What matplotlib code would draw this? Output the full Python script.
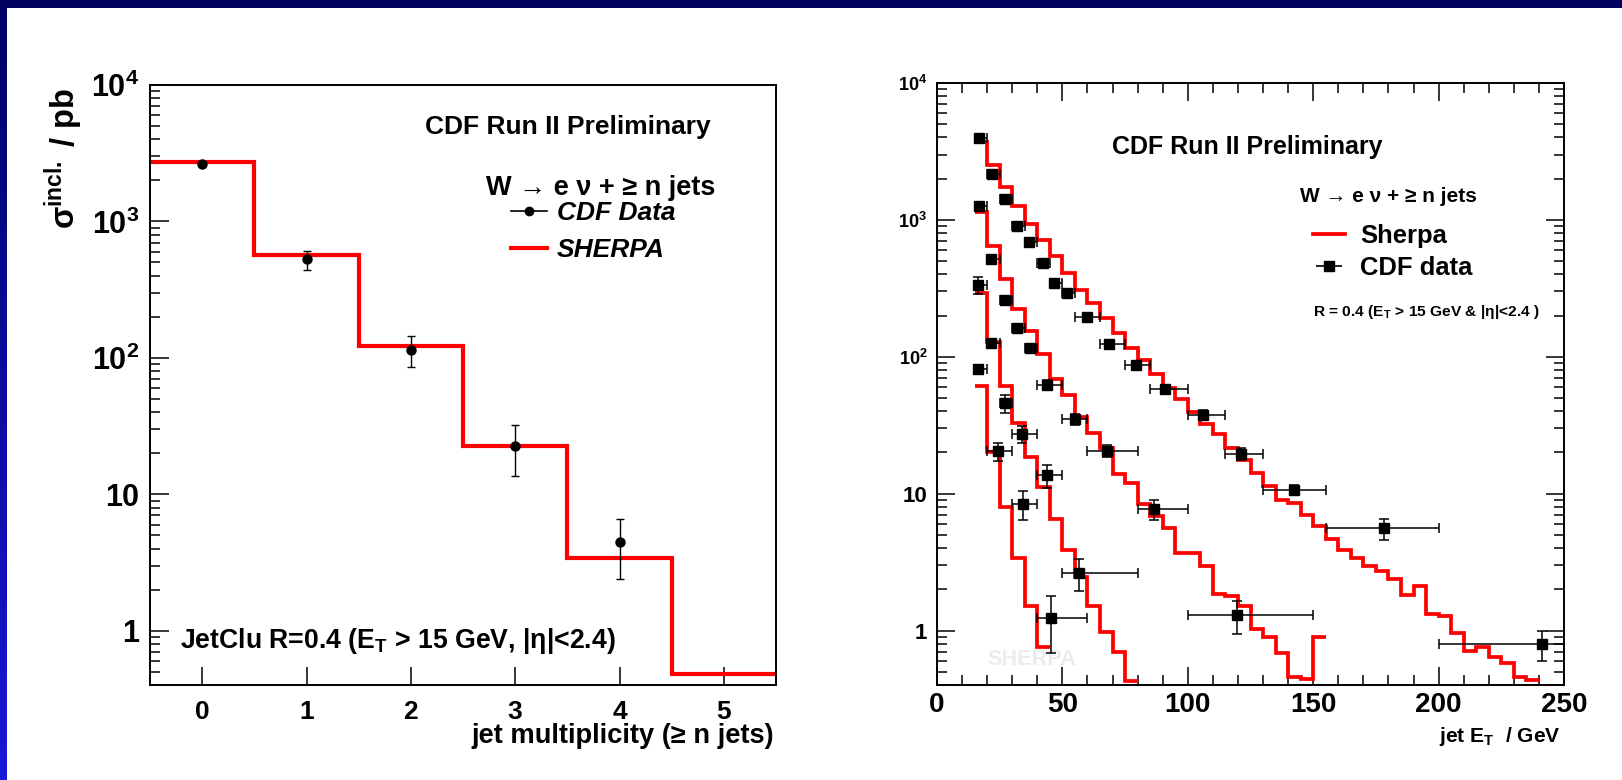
import numpy as np
import matplotlib
matplotlib.use('Agg')
import matplotlib.pyplot as plt
from matplotlib import font_manager
from matplotlib.lines import Line2D
from matplotlib.patches import Rectangle
from matplotlib.colors import LinearSegmentedColormap
from matplotlib.ticker import LogLocator, NullFormatter, MultipleLocator, NullLocator

# ---------------- data: left panel (inclusive cross sections) ----------------
mult_n = [0, 1, 2, 3, 4]
sigma_incl = [2625, 528, 114, 22.6, 4.49]
sigma_err_lo = [60, 87, 28, 8.9, 2.1]
sigma_err_hi = [60, 82, 31, 9.4, 2.1]
sherpa_n = [0, 1, 2, 3, 4, 5]
sherpa_incl = [2740, 569, 123, 22.5, 3.43, 0.48]
mult_ticks = [0, 1, 2, 3, 4, 5]

# ---------------- data: right panel (jet ET spectra) ----------------
et_first_edge = 15
et_bin_width = 5
sherpa_j1 = [3720, 2513, 1745, 1267, 931, 708, 546, 412, 310, 245, 192, 150, 116, 94,
             75, 59.6, 49.5, 39.5, 32.5, 27.2, 21.7, 17.7, 14.2, 11.3, 9.0, 8.6, 7.0,
             5.8, 4.7, 3.9, 3.4, 2.95, 2.71, 2.36, 1.83, 2.10, 1.32, 1.27, 0.96, 0.71,
             0.755, 0.64, 0.58, 0.456, 0.436]
sherpa_j2 = [1145, 646, 373, 225, 154, 105, 68.5, 52.3, 36.4, 27.8, 21.4, 13.8, 12.0,
             8.45, 6.82, 5.61, 3.70, 3.70, 2.95, 1.85, 1.79, 1.52, 1.02, 0.90, 0.68,
             0.456, 0.44, 0.90]
sherpa_j3 = [290, 128, 61.2, 32.9, 18.5, 11.2, 6.48, 3.85, 2.45, 1.51, 0.98, 0.70, 0.43]
sherpa_j4 = [60.8, 20.3, 7.98, 3.40, 1.51, 0.76]

cdf_j1_et = [16.9, 21.8, 27.0, 31.8, 36.7, 42.4, 46.7, 52.0, 59.7, 68.7, 79.3, 91.0,
             105.9, 121.1, 142.5, 178.3, 241.1]
cdf_j1_val = [3940, 2161, 1410, 899, 687, 485, 347, 290, 194, 123, 86.7, 58.5, 37.8,
              19.6, 10.7, 5.57, 0.80]
cdf_j1_lo = [15, 20, 25, 30, 35, 40, 45, 50, 55, 65, 75, 85, 100, 115, 130, 155, 200]
cdf_j1_hi = [20, 25, 30, 35, 40, 45, 50, 55, 65, 75, 85, 100, 115, 130, 155, 200, 280]
cdf_j1_err = [150, 90, 60, 40, 30, 22, 16, 14, 10, 7, 5, 4, 3, 2, 0.9, 1.0, 0.2]

cdf_j2_et = [16.9, 21.4, 27.1, 31.8, 37.1, 44.0, 55.2, 67.9, 86.7, 119.7]
cdf_j2_val = [1267, 516, 262, 161, 115, 62.6, 34.9, 20.5, 7.67, 1.30]
cdf_j2_lo = [15, 20, 25, 30, 35, 40, 50, 60, 80, 100]
cdf_j2_hi = [20, 25, 30, 35, 40, 50, 60, 80, 100, 150]
cdf_j2_err = [60, 30, 16, 12, 8, 5, 3, 2, 1.25, 0.35]

cdf_j3_et = [16.5, 21.4, 27.0, 33.8, 44.0, 56.8]
cdf_j3_val = [333, 126, 46, 27.4, 13.6, 2.63]
cdf_j3_lo = [15, 20, 25, 30, 40, 50]
cdf_j3_hi = [20, 25, 30, 40, 50, 80]
cdf_j3_err = [47, 9, 7, 3.8, 2.6, 0.68]

cdf_j4_et = [16.5, 24.5, 34.2, 45.3]
cdf_j4_val = [81, 20.4, 8.45, 1.24]
cdf_j4_lo = [15, 20, 30, 40]
cdf_j4_hi = [20, 30, 40, 60]
cdf_j4_err = [6, 3, 2.0, 0.55]

# ---------------- fonts ----------------
names = {f.name for f in font_manager.fontManager.ttflist}
NARROW = 'Liberation Sans Narrow' in names
NF = ['Liberation Sans Narrow', 'Liberation Sans', 'DejaVu Sans'] if NARROW else ['Liberation Sans', 'DejaVu Sans']
NS = 1.0 if NARROW else 0.82
RF = ['Liberation Sans', 'DejaVu Sans']

plt.rcParams.update({
    'font.family': RF, 'font.weight': 'bold',
    'mathtext.fontset': 'custom', 'mathtext.rm': 'Liberation Sans:bold',
    'mathtext.it': 'Liberation Sans:bold:italic', 'mathtext.bf': 'Liberation Sans:bold',
    'mathtext.default': 'rm', 'axes.linewidth': 1.4,
})

W, H = 1622, 780
fig = plt.figure(figsize=(W / 100, H / 100), dpi=100)
fig.patch.set_facecolor('white')


def fx(p):
    return p / W


def fy(p):
    return 1 - p / H


# ---------------- slide border ----------------
bg = fig.add_axes([0, 0, 1, 1], zorder=-5)
cmap = LinearSegmentedColormap.from_list('b', ['#000066', '#1818d8'])
bg.imshow(np.linspace(0, 1, 256).reshape(-1, 1), cmap=cmap, extent=(0, 7, H, 0), aspect='auto')
bg.add_patch(Rectangle((0, 0), W, 8, color='#00005e', lw=0))
bg.set_xlim(0, W)
bg.set_ylim(H, 0)
bg.axis('off')

RED = '#ff0000'

# ---------------- left panel ----------------
axL = fig.add_axes([fx(150), fy(685), fx(776) - fx(150), fy(85) - fy(685)])
axL.set_yscale('log')
axL.set_xlim(-0.5, 5.5)
axL.set_ylim(0.40, 1e4)
edgesL = np.append(np.array(sherpa_n) - 0.5, sherpa_n[-1] + 0.5)
axL.stairs(sherpa_incl, edgesL, baseline=None, color=RED, lw=3.0, zorder=2)
axL.errorbar(mult_n, sigma_incl, yerr=[sigma_err_lo, sigma_err_hi], fmt='o', color='k',
             ms=6.5, capsize=3, elinewidth=1.0, capthick=1.0, zorder=3)
axL.tick_params(which='both', direction='in', top=False, right=False)
axL.tick_params(axis='y', which='major', length=13.5, width=1.1, pad=8)
axL.tick_params(axis='y', which='minor', length=7, width=1.1)
axL.tick_params(axis='x', which='major', length=13, width=1.1, pad=10.5, labelsize=19)
axL.set_xticks(mult_ticks)
axL.xaxis.set_minor_locator(NullLocator())
axL.set_yticks([1, 10, 100, 1000, 10000], ['1', '10', '$10^{2}$', '$10^{3}$', '$10^{4}$'])
axL.yaxis.set_minor_locator(LogLocator(base=10, subs=np.arange(2, 10)))
axL.yaxis.set_minor_formatter(NullFormatter())
for t in axL.get_yticklabels():
    t.set_fontsize(22)

fig.text(fx(425), fy(134), 'CDF Run II Preliminary', fontsize=19, ha='left', va='baseline')
fig.text(fx(486), fy(195), 'W → e ν + ≥ n jets', fontsize=19.5, ha='left', va='baseline')
fsL = 19 * 100 / 72
hL = [Line2D([], [], color='k', marker='o', ms=6, lw=1.2), Line2D([], [], color=RED, lw=3.0)]
axL.legend(hL, ['CDF Data', 'SHERPA'], loc='center left',
           bbox_to_anchor=(fx(511), fy((210 + 253.3) / 2)), bbox_transform=fig.transFigure,
           frameon=False, borderpad=0, borderaxespad=0, handlelength=36 / fsL,
           handletextpad=10 / fsL, labelspacing=(43 - 1.15 * fsL) / fsL,
           prop={'family': RF, 'weight': 'bold', 'style': 'italic', 'size': 19})
fig.text(fx(180), fy(648), r'JetClu R=0.4 (E$_{\mathrm{T}}$ > 15 GeV, |η|<2.4)', fontsize=19.2,
         ha='left', va='baseline')
fig.text(fx(774), fy(742.7), 'jet multiplicity (≥ n jets)', fontsize=19.6, ha='right', va='baseline')
fig.text(fx(64), fy(88), r'σ$^{\mathrm{incl.}}$ / pb', rotation=90, fontsize=23.5, ha='center', va='top')

# ---------------- right panel ----------------
axR = fig.add_axes([fx(937), fy(685), fx(1564) - fx(937), fy(83) - fy(685)])
axR.set_yscale('log')
axR.set_xlim(0, 250)
axR.set_ylim(0.40, 1e4)
for vals in (sherpa_j1, sherpa_j2, sherpa_j3, sherpa_j4):
    edges = et_first_edge + et_bin_width * np.arange(len(vals) + 1)
    axR.stairs(vals, edges, baseline=None, color=RED, lw=2.7, zorder=2)
for et, val, lo, hi, err in ((cdf_j1_et, cdf_j1_val, cdf_j1_lo, cdf_j1_hi, cdf_j1_err),
                             (cdf_j2_et, cdf_j2_val, cdf_j2_lo, cdf_j2_hi, cdf_j2_err),
                             (cdf_j3_et, cdf_j3_val, cdf_j3_lo, cdf_j3_hi, cdf_j3_err),
                             (cdf_j4_et, cdf_j4_val, cdf_j4_lo, cdf_j4_hi, cdf_j4_err)):
    et = np.array(et)
    axR.errorbar(et, val, xerr=[et - np.array(lo), np.array(hi) - et], yerr=err, fmt='s',
                 color='k', ms=6.5, capsize=3.5, elinewidth=1.1, capthick=1.1, zorder=3)
axR.tick_params(which='both', direction='in', top=True, right=True)
axR.tick_params(which='major', length=13, width=1.1)
axR.tick_params(which='minor', length=7, width=1.1)
axR.tick_params(axis='x', which='major', pad=5, labelsize=20)
axR.tick_params(axis='y', which='major', pad=7)
axR.xaxis.set_major_locator(MultipleLocator(50))
axR.xaxis.set_minor_locator(MultipleLocator(10))
axR.set_yticks([1, 10, 100, 1000, 10000], ['1', '10', '$10^{2}$', '$10^{3}$', '$10^{4}$'])
axR.yaxis.set_minor_locator(LogLocator(base=10, subs=np.arange(2, 10)))
axR.yaxis.set_minor_formatter(NullFormatter())
for t in axR.get_yticklabels():
    if '$' in t.get_text():
        t.set_fontsize(13)
    else:
        t.set_fontfamily(NF)
        t.set_fontsize(19.7 * NS)

fig.text(fx(1112), fy(154), 'CDF Run II Preliminary', fontsize=22 * NS, family=NF, ha='left', va='baseline')
fig.text(fx(1300), fy(201.7), 'W → e ν + ≥ n jets', fontsize=18.3 * NS, family=NF, ha='left', va='baseline')
fsR = 22.5 * NS * 100 / 72
h_sherpa = Line2D([], [], color=RED, lw=2.7)
h_data = axR.errorbar([], [], xerr=[], fmt='s', color='k', ms=6.5, capsize=6, elinewidth=1.2, capthick=1.2)
axR.legend([h_sherpa, h_data], ['Sherpa', 'CDF data'], loc='center left',
           bbox_to_anchor=(fx(1313), fy(252)), bbox_transform=fig.transFigure,
           frameon=False, borderpad=0, borderaxespad=0, handlelength=32 / fsR,
           handletextpad=15 / fsR, labelspacing=0.3,
           prop={'family': NF, 'weight': 'bold', 'size': 22.5 * NS})
fig.text(fx(1313), fy(316), r'R = 0.4 (E$_{\mathrm{T}}$ > 15 GeV & |η|<2.4 )', fontsize=13.6 * NS,
         family=NF, ha='left', va='baseline')
fig.text(fx(1561), fy(741.7), r'jet E$_{\mathrm{T}}$  / GeV', fontsize=18.5 * NS, family=NF,
         ha='right', va='baseline')
axR.text(fx(987), fy(665), 'SHERPA', transform=fig.transFigure, fontsize=19 * NS, family=NF,
         color='#ececec', ha='left', va='baseline', zorder=0.5)

fig.savefig('out.png', dpi=100)
